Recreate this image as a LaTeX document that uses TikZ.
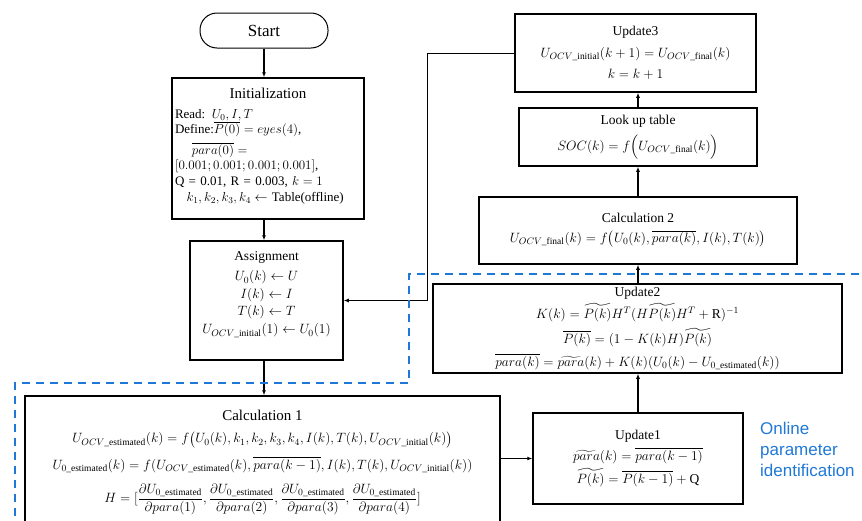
\RequirePackage{fix-cm}
\documentclass[tikz,border=0pt]{standalone}
\usepackage{amsmath,amssymb}
\usepackage{fontspec}
\setmainfont{Liberation Serif}
\newfontfamily\onlinefont{Liberation Sans}
\usetikzlibrary{arrows.meta, positioning, calc}
\definecolor{onlineblue}{RGB}{31,120,215}
\newcommand{\uocv}[1]{U_{OCV\text{\_#1}}}
\newcommand{\uzero}[1]{U_{0\text{\_#1}}}
\newcommand{\boxtitle}[1]{{\fontsize{13.5}{16}\selectfont #1}}
\tikzset{
  stepbox/.style={draw, line width=1.5pt, align=center, inner sep=2pt},
  flow/.style={->, line width=1.1pt}
}

\begin{document}
\begin{tikzpicture}[x=10pt, y=10pt, font=\fontsize{13.5}{17}\selectfont, >={Latex[length=5pt,width=4pt]}]
    \clip (0,0) rectangle (86.2,-52);

    % left column
    \node[draw, line width=1pt, rounded corners=17pt, minimum width=128pt, minimum height=35pt, font=\fontsize{17}{20}\selectfont] (start) at (26.4,-3.05) {Start};
    \node[stepbox, align=left, text width=186pt, minimum width=192pt, minimum height=141pt, font=\fontsize{13}{16.5}\selectfont] (init) at (26.8,-14.85) {%
        \makebox[186pt][c]{\fontsize{15}{18}\selectfont Initialization}\\[3pt]
        Read: $U_0, I, T$\\[-1pt]
        Define:$\overline{P(0)} = eyes(4)$,\\[4pt]
        \hspace*{1.3em}$\overline{para(0)} =$\\[-1pt]
        $[0.001; 0.001; 0.001; 0.001]$,\\[-1pt]
        Q = 0.01, R = 0.003, $k = 1$\\[0pt]
        \hspace*{0.9em}$k_1, k_2, k_3, k_4 \leftarrow$ Table(offline)\\[-10pt]\mbox{}};
    \node[stepbox, minimum width=153pt, minimum height=119pt] (assign) at (26.65,-30.05) {%
        \boxtitle{Assignment}\\[3pt]
        $U_0(k) \leftarrow U$\\[1pt]
        $I(k) \leftarrow I$\\[0pt]
        $T(k) \leftarrow T$\\[1pt]
        $\uocv{initial}(1) \leftarrow U_0(1)$\\[-2pt]\mbox{}};
    \node[stepbox, minimum width=475pt, minimum height=134pt] (calc1) at (26.25,-46.3) {%
        {\fontsize{15}{18}\selectfont Calculation 1}\\[5pt]
        $\uocv{estimated}(k) = f\big(U_0(k), k_1, k_2, k_3, k_4, I(k), T(k), \uocv{initial}(k)\big)$\\[8pt]
        $\uzero{estimated}(k) = f(\uocv{estimated}(k), \overline{para(k-1)}, I(k), T(k), \uocv{initial}(k))$\\[10pt]
        $H = [\dfrac{\partial \uzero{estimated}}{\partial para(1)}, \dfrac{\partial \uzero{estimated}}{\partial para(2)}, \dfrac{\partial \uzero{estimated}}{\partial para(3)}, \dfrac{\partial \uzero{estimated}}{\partial para(4)}]$\\[-4pt]\mbox{}};

    % right column
    \node[stepbox, minimum width=210pt, minimum height=91pt] (upd1) at (63.8,-45.85) {%
        \boxtitle{Update1}\\[4pt]
        $\widetilde{para}(k) = \overline{para(k-1)}$\\[4pt]
        $\widetilde{P(k)} = \overline{P(k-1)} + \mathrm{Q}$};
    \node[stepbox, minimum width=409pt, minimum height=89pt] (upd2) at (63.75,-32.85) {%
        \boxtitle{Update2}\\[3pt]
        $K(k) = \widetilde{P(k)}H^T(H\widetilde{P(k)}H^T + \mathrm{R})^{-1}$\\[6pt]
        $\overline{P(k)} = (1 - K(k)H)\widetilde{P(k)}$\\[6pt]
        $\overline{para(k)} = \widetilde{para}(k) + K(k)(U_0(k) - \uzero{estimated}(k))$};
    \node[stepbox, minimum width=318pt, minimum height=67pt] (calc2) at (63.8,-23.05) {%
        \boxtitle{Calculation 2}\\[3pt]
        $\uocv{final}(k) = f\big(U_0(k), \overline{para(k)}, I(k), T(k)\big)$};
    \node[stepbox, minimum width=238pt, minimum height=58pt] (lut) at (63.8,-13.7) {%
        \boxtitle{Look up table}\\[7pt]
        $SOC(k) = f\Big(\uocv{final}(k)\Big)$};
    \node[stepbox, minimum width=241pt, minimum height=78pt] (upd3) at (63.55,-5.3) {%
        \boxtitle{Update3}\\[5pt]
        $\uocv{initial}(k+1) = \uocv{final}(k)$\\[4pt]
        $k = k + 1$};

    \node[anchor=north west, align=left, inner sep=0pt, text=onlineblue, font=\onlinefont\fontsize{17}{21}\selectfont] (online) at (76.0,-42.2) {Online\\parameter\\identification};

    % connectors
    \draw[flow] (start.south) -- (start.south |- init.north);
    \draw[flow] (start |- init.south) -- (start |- assign.north);
    \draw[flow] (start |- assign.south) -- (start |- calc1.north);
    \draw[flow] (calc1.east |- upd1.west) -- (upd1.west);
    \draw[flow] (upd1.north) -- (upd1.north |- upd2.south);
    \draw[flow] (upd1.north |- upd2.north) -- (upd1.north |- calc2.south);
    \draw[flow] (upd1.north |- calc2.north) -- (upd1.north |- lut.south);
    \draw[flow] (upd1.north |- lut.north) -- (upd1.north |- upd3.south);
    \coordinate (bend) at (42.7,-5.3);
    \draw[flow, line width=0.9pt] (upd3.west) -- (bend) |- (assign.east);

    % online identification region
    \draw[onlineblue, line width=1.8pt, dash pattern=on 8pt off 6pt] (1.5,-53) -- (1.5,-38.3) -- (40.9,-38.3) -- (40.9,-27.4) -- (87,-27.4);
\end{tikzpicture}
\end{document}
